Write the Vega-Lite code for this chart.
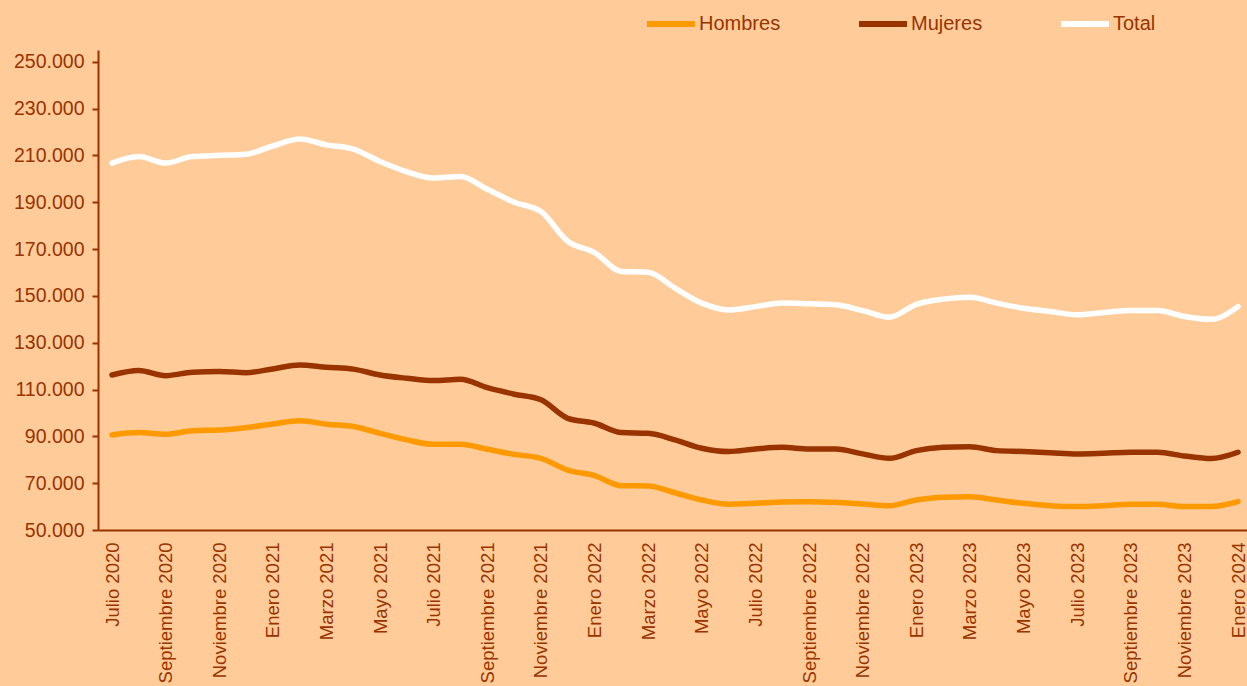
{
  "$schema": "https://vega.github.io/schema/vega-lite/v6.json",
  "width": 1149,
  "height": 480,
  "autosize": {"type": "none"},
  "padding": {"left": 98, "top": 50, "right": 0, "bottom": 156},
  "background": "#FFCC99",
  "config": {
    "view": {"stroke": null},
    "font": "Liberation Sans"
  },
  "data": {
    "values": [
      {"mes": "Julio 2020", "Hombres": 90600, "Mujeres": 116200, "Total": 206700},
      {"mes": "Agosto 2020", "Hombres": 91600, "Mujeres": 118100, "Total": 209500},
      {"mes": "Septiembre 2020", "Hombres": 90900, "Mujeres": 115900, "Total": 206700},
      {"mes": "Octubre 2020", "Hombres": 92400, "Mujeres": 117400, "Total": 209500},
      {"mes": "Noviembre 2020", "Hombres": 92700, "Mujeres": 117700, "Total": 210000},
      {"mes": "Diciembre 2020", "Hombres": 93700, "Mujeres": 117200, "Total": 210500},
      {"mes": "Enero 2021", "Hombres": 95300, "Mujeres": 118800, "Total": 214000},
      {"mes": "Febrero 2021", "Hombres": 96700, "Mujeres": 120500, "Total": 217000},
      {"mes": "Marzo 2021", "Hombres": 95200, "Mujeres": 119500, "Total": 214500},
      {"mes": "Abril 2021", "Hombres": 94200, "Mujeres": 118700, "Total": 212700},
      {"mes": "Mayo 2021", "Hombres": 91300, "Mujeres": 116200, "Total": 207400},
      {"mes": "Junio 2021", "Hombres": 88500, "Mujeres": 114800, "Total": 203000},
      {"mes": "Julio 2021", "Hombres": 86600, "Mujeres": 113800, "Total": 200300},
      {"mes": "Agosto 2021", "Hombres": 86600, "Mujeres": 114400, "Total": 201000},
      {"mes": "Septiembre 2021", "Hombres": 84500, "Mujeres": 110800, "Total": 195500},
      {"mes": "Octubre 2021", "Hombres": 82300, "Mujeres": 108000, "Total": 190000},
      {"mes": "Noviembre 2021", "Hombres": 80600, "Mujeres": 105600, "Total": 186000},
      {"mes": "Diciembre 2021", "Hombres": 75600, "Mujeres": 97700, "Total": 173300},
      {"mes": "Enero 2022", "Hombres": 73200, "Mujeres": 95600, "Total": 168500},
      {"mes": "Febrero 2022", "Hombres": 68900, "Mujeres": 91600, "Total": 160400},
      {"mes": "Marzo 2022", "Hombres": 68800, "Mujeres": 91300, "Total": 160100},
      {"mes": "Abril 2022", "Hombres": 65900, "Mujeres": 88500, "Total": 153300},
      {"mes": "Mayo 2022", "Hombres": 62800, "Mujeres": 84900, "Total": 146900},
      {"mes": "Junio 2022", "Hombres": 61000, "Mujeres": 83500, "Total": 144000},
      {"mes": "Julio 2022", "Hombres": 61400, "Mujeres": 84600, "Total": 145400},
      {"mes": "Agosto 2022", "Hombres": 62000, "Mujeres": 85300, "Total": 146900},
      {"mes": "Septiembre 2022", "Hombres": 62100, "Mujeres": 84600, "Total": 146600},
      {"mes": "Octubre 2022", "Hombres": 61800, "Mujeres": 84600, "Total": 146200},
      {"mes": "Noviembre 2022", "Hombres": 61100, "Mujeres": 82500, "Total": 143700},
      {"mes": "Diciembre 2022", "Hombres": 60400, "Mujeres": 80600, "Total": 140900},
      {"mes": "Enero 2023", "Hombres": 62800, "Mujeres": 83900, "Total": 146400},
      {"mes": "Febrero 2023", "Hombres": 64000, "Mujeres": 85300, "Total": 148600},
      {"mes": "Marzo 2023", "Hombres": 64200, "Mujeres": 85600, "Total": 149400},
      {"mes": "Abril 2023", "Hombres": 62800, "Mujeres": 83900, "Total": 146900},
      {"mes": "Mayo 2023", "Hombres": 61400, "Mujeres": 83500, "Total": 144700},
      {"mes": "Junio 2023", "Hombres": 60400, "Mujeres": 83000, "Total": 143300},
      {"mes": "Julio 2023", "Hombres": 60000, "Mujeres": 82500, "Total": 141900},
      {"mes": "Agosto 2023", "Hombres": 60400, "Mujeres": 82800, "Total": 142900},
      {"mes": "Septiembre 2023", "Hombres": 61000, "Mujeres": 83200, "Total": 143700},
      {"mes": "Octubre 2023", "Hombres": 61000, "Mujeres": 83200, "Total": 143700},
      {"mes": "Noviembre 2023", "Hombres": 60000, "Mujeres": 81600, "Total": 141200},
      {"mes": "Diciembre 2023", "Hombres": 60000, "Mujeres": 80500, "Total": 140000},
      {"mes": "Enero 2024", "Hombres": 62100, "Mujeres": 83200, "Total": 145400}
    ]
  },
  "transform": [
    {"fold": ["Hombres", "Mujeres", "Total"], "as": ["serie", "valor"]}
  ],
  "mark": {"type": "line", "strokeWidth": 5.5, "strokeCap": "round", "strokeJoin": "round", "interpolate": "monotone"},
  "encoding": {
    "x": {
      "field": "mes",
      "type": "ordinal",
      "sort": null,
      "scale": {"type": "point", "padding": 0.429, "align": 0.609},
      "axis": {
        "title": null,
        "values": ["Julio 2020", "Septiembre 2020", "Noviembre 2020", "Enero 2021", "Marzo 2021", "Mayo 2021", "Julio 2021", "Septiembre 2021", "Noviembre 2021", "Enero 2022", "Marzo 2022", "Mayo 2022", "Julio 2022", "Septiembre 2022", "Noviembre 2022", "Enero 2023", "Marzo 2023", "Mayo 2023", "Julio 2023", "Septiembre 2023", "Noviembre 2023", "Enero 2024"],
        "labelAngle": -90,
        "labelAlign": "right",
        "labelBaseline": "middle",
        "labelFontSize": 18.5,
        "labelColor": "#993300",
        "labelOverlap": false,
        "labelBound": false,
        "labelFlush": false,
        "labelPadding": 12,
        "ticks": false,
        "domainColor": "#993300",
        "domainWidth": 2,
        "grid": false
      }
    },
    "y": {
      "field": "valor",
      "type": "quantitative",
      "scale": {"domain": [50000, 255000], "nice": false, "zero": false},
      "axis": {
        "title": null,
        "values": [50000, 70000, 90000, 110000, 130000, 150000, 170000, 190000, 210000, 230000, 250000],
        "labelExpr": "replace(format(datum.value, ','), ',', '.')",
        "labelFontSize": 19.5,
        "labelColor": "#993300",
        "labelPadding": 8,
        "tickColor": "#993300",
        "tickWidth": 2,
        "tickSize": 6,
        "domainColor": "#993300",
        "domainWidth": 2,
        "grid": false
      }
    },
    "color": {
      "field": "serie",
      "type": "nominal",
      "scale": {"domain": ["Hombres", "Mujeres", "Total"], "range": ["#FF9900", "#993300", "#FFFFFF"]},
      "legend": {
        "title": null,
        "orient": "none",
        "direction": "horizontal",
        "legendX": 546,
        "legendY": -53,
        "symbolType": "stroke",
        "symbolSize": 2304,
        "symbolStrokeWidth": 6,
        "labelFontSize": 20,
        "labelColor": "#993300",
        "labelOffset": 1,
        "columnPadding": 66
      }
    }
  }
}
